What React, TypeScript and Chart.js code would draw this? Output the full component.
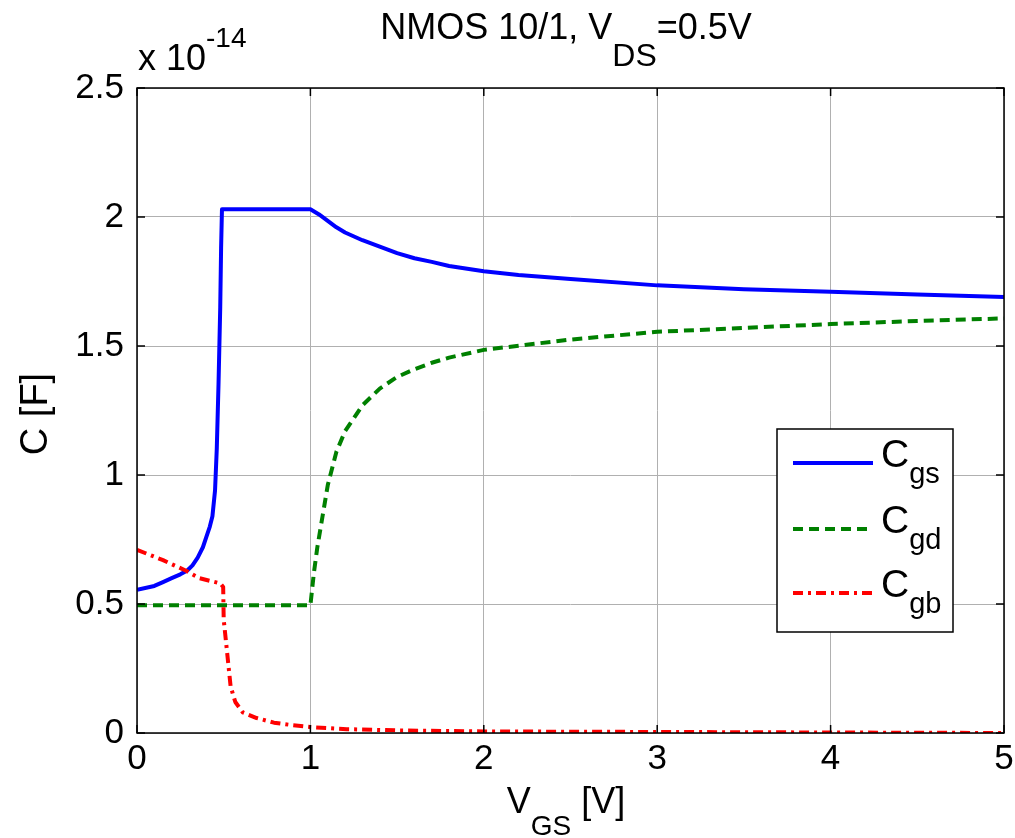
import React, { useEffect, useRef } from "react";
import { Chart, registerables } from "chart.js";

Chart.register(...registerables);

// ---- data (capacitance in units of 1e-14 F) ----
const cgsV = [0, 0.1, 0.15, 0.2, 0.25, 0.29, 0.32, 0.35, 0.38, 0.4, 0.42, 0.435, 0.45, 0.46, 0.47, 0.48, 0.485, 0.49, 1.0, 1.05, 1.1, 1.15, 1.2, 1.3, 1.4, 1.5, 1.6, 1.7, 1.8, 2.0, 2.2, 2.5, 3.0, 3.5, 4.0, 4.5, 5.0];
const cgsC = [0.555, 0.57, 0.585, 0.6, 0.615, 0.63, 0.65, 0.68, 0.72, 0.76, 0.80, 0.84, 0.94, 1.1, 1.35, 1.65, 1.88, 2.03, 2.03, 2.01, 1.985, 1.96, 1.94, 1.91, 1.885, 1.86, 1.84, 1.826, 1.81, 1.79, 1.775, 1.76, 1.735, 1.72, 1.71, 1.70, 1.69];

const cgdV = [0, 1.0, 1.02, 1.04, 1.07, 1.1, 1.15, 1.2, 1.3, 1.4, 1.5, 1.6, 1.7, 1.8, 2.0, 2.5, 3.0, 3.5, 4.0, 4.5, 5.0];
const cgdC = [0.495, 0.495, 0.62, 0.72, 0.84, 0.96, 1.09, 1.17, 1.27, 1.335, 1.38, 1.41, 1.435, 1.455, 1.485, 1.525, 1.555, 1.57, 1.585, 1.597, 1.607];

const cgbV = [0, 0.15, 0.28, 0.36, 0.42, 0.48, 0.497, 0.5, 0.52, 0.54, 0.567, 0.61, 0.69, 0.79, 0.9, 1.0, 1.21, 1.5, 2.0, 3.0, 4.0, 5.0];
const cgbC = [0.71, 0.67, 0.63, 0.60, 0.59, 0.58, 0.566, 0.44, 0.31, 0.18, 0.12, 0.08, 0.058, 0.04, 0.03, 0.023, 0.015, 0.01, 0.006, 0.004, 0.002, 0.0];

const xTicks = [0, 1, 2, 3, 4, 5];
const yTicks = [0, 0.5, 1, 1.5, 2, 2.5];
const yTickLabels = ["0", "0.5", "1", "1.5", "2", "2.5"];

const seriesNames = [
  { main: "C", sub: "gs" },
  { main: "C", sub: "gd" },
  { main: "C", sub: "gb" },
];

const FONT = "'Liberation Sans', Arial, Helvetica, sans-serif";

type Part = { text: string; size: number; dy: number };

function richWidth(ctx: CanvasRenderingContext2D, parts: Part[]) {
  let w = 0;
  for (const p of parts) {
    ctx.font = `${p.size}px ${FONT}`;
    w += ctx.measureText(p.text).width;
  }
  return w;
}

function drawRich(ctx: CanvasRenderingContext2D, parts: Part[], x: number, y: number) {
  let cx = x;
  ctx.textBaseline = "alphabetic";
  ctx.textAlign = "left";
  for (const p of parts) {
    ctx.font = `${p.size}px ${FONT}`;
    ctx.fillText(p.text, cx, y + p.dy);
    cx += ctx.measureText(p.text).width;
  }
}

const decorPlugin = {
  id: "decor",
  afterDraw(chart: any) {
    const ctx: CanvasRenderingContext2D = chart.ctx;
    const { left, right, top, bottom } = chart.chartArea;
    const xs = chart.scales.x;
    const ys = chart.scales.y;
    ctx.save();
    ctx.fillStyle = "#000";
    ctx.strokeStyle = "#000";

    // axes box
    ctx.lineWidth = 1.5;
    ctx.strokeRect(left, top, right - left, bottom - top);

    // inside tick marks
    const tl = 8;
    ctx.lineWidth = 1.5;
    ctx.beginPath();
    for (const v of xTicks) {
      const px = xs.getPixelForValue(v);
      ctx.moveTo(px, bottom);
      ctx.lineTo(px, bottom - tl);
      ctx.moveTo(px, top);
      ctx.lineTo(px, top + tl);
    }
    for (const v of yTicks) {
      const py = ys.getPixelForValue(v);
      ctx.moveTo(left, py);
      ctx.lineTo(left + tl, py);
      ctx.moveTo(right, py);
      ctx.lineTo(right - tl, py);
    }
    ctx.stroke();

    // title
    const title: Part[] = [
      { text: "NMOS 10/1, V", size: 36, dy: 0 },
      { text: "DS", size: 32, dy: 27 },
      { text: "=0.5V", size: 36, dy: 0 },
    ];
    const cxp = 566;
    let w = richWidth(ctx, title);
    drawRich(ctx, title, cxp - w / 2, 39);

    // exponent
    drawRich(
      ctx,
      [
        { text: "x 10", size: 36, dy: 0 },
        { text: "-14", size: 28, dy: -23 },
      ],
      left + 1,
      70
    );

    // x label
    const xl: Part[] = [
      { text: "V", size: 36, dy: 0 },
      { text: "GS", size: 28, dy: 22 },
      { text: " [V]", size: 36, dy: 0 },
    ];
    w = richWidth(ctx, xl);
    drawRich(ctx, xl, cxp - w / 2, 813);

    // y label
    ctx.save();
    ctx.translate(47, 414);
    ctx.rotate(-Math.PI / 2);
    ctx.font = `38px ${FONT}`;
    ctx.textAlign = "center";
    ctx.textBaseline = "alphabetic";
    ctx.fillText("C [F]", 0, 0);
    ctx.restore();

    // legend
    const lx = 777, ly = 429, lw = 176, lh = 203;
    ctx.fillStyle = "#fff";
    ctx.fillRect(lx, ly, lw, lh);
    ctx.strokeStyle = "#000";
    ctx.lineWidth = 1.5;
    ctx.strokeRect(lx, ly, lw, lh);
    const rows = [463, 529, 593];
    chart.data.datasets.forEach((ds: any, i: number) => {
      ctx.save();
      ctx.strokeStyle = ds.borderColor;
      ctx.lineWidth = ds.borderWidth;
      ctx.setLineDash(ds.borderDash || []);
      ctx.beginPath();
      ctx.moveTo(793, rows[i]);
      ctx.lineTo(873, rows[i]);
      ctx.stroke();
      ctx.restore();
      ctx.fillStyle = "#000";
      drawRich(
        ctx,
        [
          { text: seriesNames[i].main, size: 39, dy: 0 },
          { text: seriesNames[i].sub, size: 29, dy: 16 },
        ],
        881,
        rows[i] + 4
      );
    });

    ctx.restore();
  },
};

export default function App() {
  const ref = useRef<HTMLCanvasElement>(null);
  useEffect(() => {
    if (!ref.current) return;
    const mk = (vx: number[], vy: number[]) => vx.map((v, i) => ({ x: v, y: vy[i] }));
    const common = { pointRadius: 0, tension: 0, borderWidth: 4, borderJoinStyle: "round" };
    const chart = new Chart(ref.current, {
      type: "line",
      data: {
        datasets: [
          {
            ...common,
            label: "Cgs",
            data: mk(cgsV, cgsC),
            borderColor: "#0000ff",
            borderDash: [2000, 0],
            order: 3,
          },
          {
            ...common,
            label: "Cgd",
            data: mk(cgdV, cgdC),
            borderColor: "#008000",
            borderDash: [10, 6],
            order: 2,
          },
          {
            ...common,
            label: "Cgb",
            data: mk(cgbV, cgbC),
            borderColor: "#ff0000",
            borderDash: [10, 5, 3, 5],
            order: 1,
          },
        ] as any,
      },
      options: {
        responsive: false,
        animation: false,
        layout: { padding: { top: 88, right: 11, left: 0, bottom: 0 } },
        plugins: {
          legend: { display: false },
          tooltip: { enabled: false },
          title: { display: false },
        },
        scales: {
          x: {
            type: "linear",
            min: 0,
            max: 5,
            afterBuildTicks: (s: any) => {
              s.ticks = xTicks.map((v) => ({ value: v }));
            },
            afterFit: (s: any) => {
              s.height = 105;
              s.paddingLeft = 0;
              s.paddingRight = 0;
            },
            ticks: {
              color: "#000",
              font: { family: FONT, size: 35 },
              padding: 5,
              maxRotation: 0,
              callback: (v: any) => String(v),
            },
            grid: { color: "#b0b0b0", lineWidth: 1, drawTicks: false },
            border: { display: false },
          },
          y: {
            type: "linear",
            min: 0,
            max: 2.5,
            afterBuildTicks: (s: any) => {
              s.ticks = yTicks.map((v) => ({ value: v }));
            },
            afterFit: (s: any) => {
              s.width = 137;
              s.paddingTop = 0;
              s.paddingBottom = 0;
            },
            ticks: {
              color: "#000",
              font: { family: FONT, size: 35 },
              padding: 13,
              callback: (v: any) => {
                const i = yTicks.indexOf(Number(v));
                return i >= 0 ? yTickLabels[i] : "";
              },
            },
            grid: { color: "#b0b0b0", lineWidth: 1, drawTicks: false },
            border: { display: false },
          },
        },
      } as any,
      plugins: [decorPlugin],
    });
    return () => chart.destroy();
  }, []);
  return (
    <div style={{ position: "absolute", left: 0, top: 0, width: 1015, height: 838, background: "#fff" }}>
      <canvas ref={ref} width={1015} height={838} style={{ display: "block" }} />
    </div>
  );
}
